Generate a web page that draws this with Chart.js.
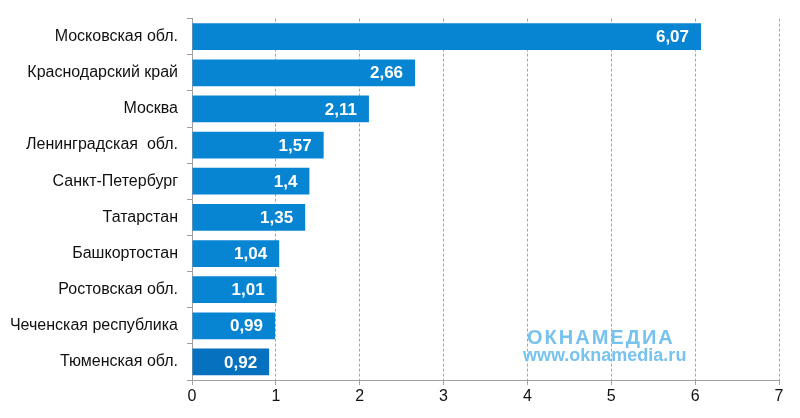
<!DOCTYPE html>
<html>
<head>
<meta charset="utf-8">
<script src="https://cdn.jsdelivr.net/npm/chart.js@4"></script>
<style>
  html, body { margin: 0; padding: 0; background: #fff; }
  #wrap { position: relative; width: 800px; height: 418px; }
  .wm { position: absolute; font-family: "Liberation Sans", Arial, sans-serif; font-weight: bold; color: #78c2ee; white-space: nowrap; }
  #wm1 { left: 527px; top: 326px; font-size: 20px; letter-spacing: 2px; }
  #wm2 { left: 523px; top: 345px; font-size: 18px; }
</style>
</head>
<body>
<div id="wrap">
  <canvas id="regionChart"></canvas>
  <div class="wm" id="wm1">ОКНАМЕДИА</div>
  <div class="wm" id="wm2">www.oknamedia.ru</div>
</div>
<script>
const regions = [
    "Московская обл.",
    "Краснодарский край",
    "Москва",
    "Ленинградская  обл.",
    "Санкт-Петербург",
    "Татарстан",
    "Башкортостан",
    "Ростовская обл.",
    "Чеченская республика",
    "Тюменская обл."
];
const values = [6.07, 2.66, 2.11, 1.57, 1.4, 1.35, 1.04, 1.01, 0.99, 0.92];
const xTicks = [0, 1, 2, 3, 4, 5, 6, 7];

const fmt = (v) => String(v).replace(".", ",");

// white labels at the inner end of each bar
const valueLabels = {
    id: "valueLabels",
    afterDatasetsDraw(chart) {
        const ctx = chart.ctx;
        const meta = chart.getDatasetMeta(0);
        ctx.save();
        ctx.fillStyle = "#ffffff";
        ctx.font = "bold 17px 'Liberation Sans', Arial, sans-serif";
        ctx.textAlign = "right";
        ctx.textBaseline = "middle";
        meta.data.forEach((bar, i) => {
            ctx.fillText(fmt(values[i]), bar.x - 12, bar.y + 1);
        });
        ctx.restore();
    }
};

const ctx = document.getElementById("regionChart").getContext("2d");
new Chart(ctx, {
    type: "bar",
    data: {
        labels: regions,
        datasets: [{
            data: values,
            backgroundColor: (c) => c.dataIndex === values.length - 1 ? "#0672bf" : "#0785d2",
            barPercentage: 0.74,
            categoryPercentage: 1
        }]
    },
    options: {
        indexAxis: "y",
        responsive: true,
        maintainAspectRatio: false,
        animation: false,
        layout: { padding: { top: 16, right: 21, left: 0, bottom: 0 } },
        plugins: {
            legend: { display: false },
            tooltip: { enabled: false }
        },
        scales: {
            x: {
                min: 0,
                max: 7,
                afterBuildTicks: (axis) => { axis.ticks = xTicks.map((v) => ({ value: v })); },
                afterFit: (axis) => { axis.height = 38; },
                grid: { color: "#a6a6a6", tickLength: 5, lineWidth: 1 },
                border: { display: true, color: "#a0a0a0", dash: [3, 2] },
                ticks: {
                    color: "#111",
                    padding: 2,
                    font: { family: "'Liberation Sans', Arial, sans-serif", size: 16 }
                }
            },
            y: {
                afterFit: (axis) => { axis.width = 192; },
                grid: { drawOnChartArea: false, tickLength: 5, color: "#a0a0a0", offset: true },
                border: { display: true, color: "#a0a0a0" },
                ticks: {
                    color: "#111",
                    padding: 9,
                    font: { family: "'Liberation Sans', Arial, sans-serif", size: 16 }
                }
            }
        }
    },
    plugins: [valueLabels]
});
</script>
</body>
</html>
